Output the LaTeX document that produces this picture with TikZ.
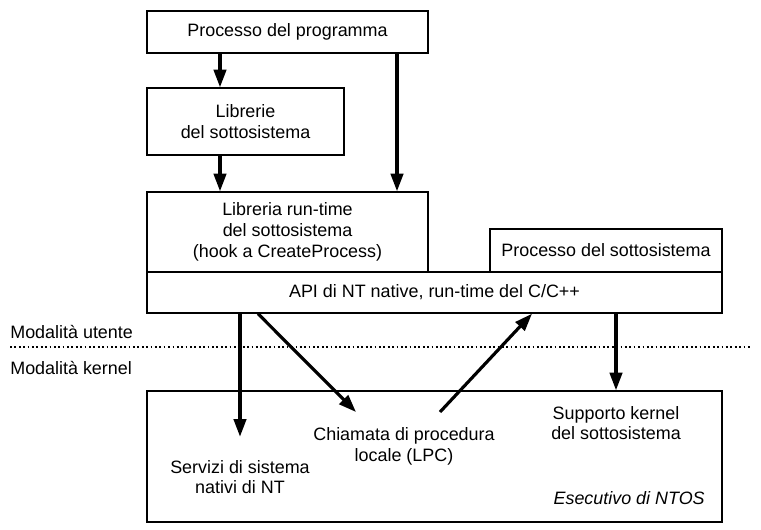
\documentclass[tikz,border=0pt]{standalone}
\usepackage{fontspec}
\setmainfont{Liberation Sans}
\usetikzlibrary{arrows.meta}

\tikzset{
	kasten/.style 2 args={draw=black, line width=0.8pt, inner sep=0pt, align=center,
		minimum width=#1*0.02cm, minimum height=#2*0.02cm},
	etikett/.style={inner sep=0pt, align=center},
	pfeil/.style={line width=1.8pt, -{Triangle[length=10pt, width=7pt]}},
	grenze/.style={line width=1pt, dash pattern=on 1pt off 1.5pt},
}

\begin{document}
\begin{tikzpicture}[x=0.02cm, y=-0.02cm, font=\fontsize{10.2}{11.8}\selectfont]
	\useasboundingbox (0,0) rectangle (761,529);
	% Kaesten Benutzermodus
	\node[kasten={281}{42}] (prog) at (287.5,32) {Processo del programma};
	\node[kasten={197}{67}] (lib) at (245.5,121.5) {Librerie\\del sottosistema};
	\node[kasten={281}{80}] (rtl) at (287.5,232) {Libreria run-time\\del
	sottosistema\\(hook a CreateProcess)};
	\node[kasten={232}{43}] (subproc) at (606,250.5) {Processo del sottosistema};
	\node[kasten={575}{41}] (api) at (434.5,292.5) {API di NT native, run-time del C/C++};

	% Grenze zwischen den Modi
	\node[anchor=base west, inner sep=0pt] (umode) at (10,338) {Modalità utente};
	\node[anchor=base west, inner sep=0pt] (kmode) at (10,374) {Modalità kernel};
	\coordinate (gl) at (10,347);
	\coordinate (gr) at (751,347);
	\draw[grenze] (gl) -- (gr);

	% Kernelmodus
	\node[kasten={575}{131}] (ntos) at (434.5,456.5) {};
	\node[etikett] (svc) at (240,477) {Servizi di sistema\\nativi di NT};
	\node[etikett] (lpc) at (404,446) {Chiamata di procedura\\locale (LPC)};
	\node[etikett] (ksup) at (616,423) {Supporto kernel\\del sottosistema};
	\node[anchor=base east, inner sep=0pt, font=\fontsize{10.2}{11.8}\selectfont\itshape]
	(exec) at (705,504) {Esecutivo di NTOS};

	% Pfeile
	\coordinate (xa) at (220,0);
	\coordinate (xb) at (397,0);
	\coordinate (xc) at (258,0);
	\coordinate (xd) at (532,0);
	\coordinate (lpcin) at (356,412);
	\coordinate (lpcout) at (440,412);
	\draw[pfeil] (prog.south -| xa) -- (lib.north -| xa);
	\draw[pfeil] (lib.south -| xa) -- (rtl.north -| xa);
	\draw[pfeil] (prog.south -| xb) -- (rtl.north -| xb);
	\draw[pfeil, shorten >=0.46cm] (api.south -| svc) -- (svc.north);
	\draw[pfeil] (api.south -| xc) -- (lpcin);
	\draw[pfeil] (lpcout) -- (api.south -| xd);
	\draw[pfeil] (api.south -| ksup) -- (ntos.north -| ksup);
\end{tikzpicture}
\end{document}
